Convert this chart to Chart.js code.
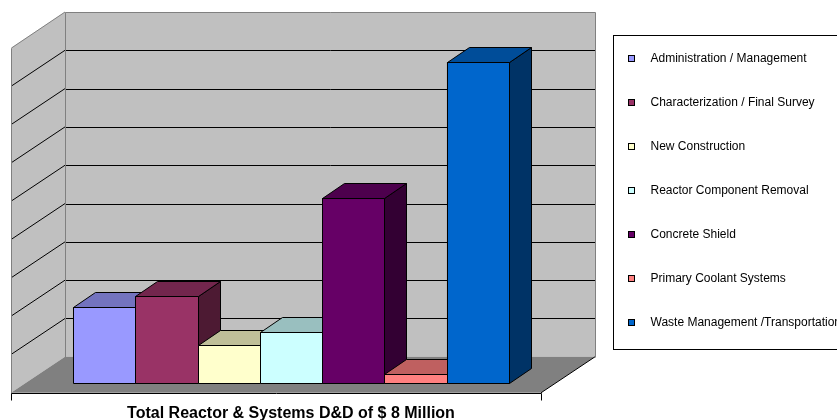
<!DOCTYPE html>
<html>
<head>
<meta charset="utf-8">
<script src="https://cdn.jsdelivr.net/npm/chart.js@4/dist/chart.umd.min.js"></script>
<style>
  html, body { margin: 0; padding: 0; background: #fff; }
  #wrap { width: 837px; height: 420px; }
</style>
</head>
<body>
<div id="wrap"><canvas id="chart" width="837" height="420"></canvas></div>
<script>
// single category, one series per cost item ($ million)
const categories = ['Total Reactor & Systems D&D of $ 8 Million'];
const seriesNames = [
  'Administration / Management',
  'Characterization / Final Survey',
  'New Construction',
  'Reactor Component Removal',
  'Concrete Shield',
  'Primary Coolant Systems',
  'Waste Management /Transportation'
];
const seriesValues = [0.79, 0.91, 0.39, 0.53, 1.93, 0.09, 3.35];
const seriesColors = ['#9999ff', '#993366', '#ffffcc', '#ccffff', '#660066', '#ff8080', '#0066cc'];
const yMax = 3.6;
const yStep = 0.4;

const FONT = "'Liberation Sans', Arial, sans-serif";
Chart.defaults.font.family = FONT;

// depth offsets of the fake 3d box, relative to the bar front plane
const FRONT = { x: -15, y: 10 };
const BACK = { x: 39, y: -26 };
const BAR_DEPTH = { x: 22, y: -15 };

function shade(hex, k) {
  const n = parseInt(hex.slice(1), 16);
  const r = Math.round(((n >> 16) & 255) * k);
  const g = Math.round(((n >> 8) & 255) * k);
  const b = Math.round((n & 255) * k);
  return `rgb(${r},${g},${b})`;
}

function swatch(color) {
  const c = document.createElement('canvas');
  c.width = 7;
  c.height = 7;
  const g = c.getContext('2d');
  g.fillStyle = color;
  g.fillRect(0, 0, 7, 7);
  g.strokeStyle = '#000';
  g.lineWidth = 1;
  g.strokeRect(0.5, 0.5, 6, 6);
  return c;
}
const swatches = seriesColors.map(swatch);

const px = v => Math.round(v) + 0.5;

function poly(ctx, pts, fill, stroke) {
  ctx.beginPath();
  pts.forEach(([x, y], i) => i ? ctx.lineTo(x, y) : ctx.moveTo(x, y));
  ctx.closePath();
  if (fill) { ctx.fillStyle = fill; ctx.fill(); }
  if (stroke) { ctx.strokeStyle = stroke; ctx.lineWidth = 1; ctx.stroke(); }
}

function line(ctx, x1, y1, x2, y2, color) {
  ctx.beginPath();
  ctx.moveTo(x1, y1);
  ctx.lineTo(x2, y2);
  ctx.strokeStyle = color;
  ctx.lineWidth = 1;
  ctx.stroke();
}

const box3d = {
  id: 'box3d',
  afterLayout(chart) {
    // legend sits in its own framed box on the right
    const lg = chart.legend;
    lg.left = 586.5; lg.top = 20.5; lg.right = 837; lg.bottom = 420;
    lg.width = lg.right - lg.left; lg.height = lg.bottom - lg.top;
  },
  beforeDraw(chart) {
    const ctx = chart.ctx;
    ctx.save();
    ctx.fillStyle = '#fff';
    ctx.fillRect(0, 0, chart.width, chart.height);
    ctx.strokeStyle = '#000';
    ctx.lineWidth = 1;
    ctx.strokeRect(613.5, 35.5, 300, 314);
    ctx.restore();
  },
  beforeDatasetsDraw(chart) {
    const ctx = chart.ctx;
    const { left: L, right: R } = chart.chartArea;
    const ys = chart.scales.y;
    const y0 = ys.getPixelForValue(0);
    const yT = ys.getPixelForValue(yMax);
    ctx.save();
    // back wall
    poly(ctx, [[L + BACK.x, yT + BACK.y], [R + BACK.x, yT + BACK.y], [R + BACK.x, y0 + BACK.y], [L + BACK.x, y0 + BACK.y]], '#c0c0c0');
    // side wall
    poly(ctx, [[L + FRONT.x, yT + FRONT.y], [L + BACK.x, yT + BACK.y], [L + BACK.x, y0 + BACK.y], [L + FRONT.x, y0 + FRONT.y]], '#c0c0c0');
    // floor
    poly(ctx, [[L + FRONT.x, y0 + FRONT.y], [L + BACK.x, y0 + BACK.y], [R + BACK.x, y0 + BACK.y], [R + FRONT.x, y0 + FRONT.y]], '#808080');

    const ticks = ys.ticks.map(t => t.value);
    ticks.forEach(v => {
      if (v <= 0 || v >= yMax) return;
      const p = ys.getPixelForValue(v);
      line(ctx, px(L + BACK.x), px(p + BACK.y), px(R + BACK.x), px(p + BACK.y), '#000');
      line(ctx, L + FRONT.x, p + FRONT.y, L + BACK.x, p + BACK.y, '#000');
    });

    // wall edges
    const gx = px(L + BACK.x), gr = px(R + BACK.x), gt = px(yT + BACK.y), gb = px(y0 + BACK.y);
    line(ctx, gx, gt, gr, gt, '#808080');
    line(ctx, gr, gt, gr, gb, '#808080');
    line(ctx, gx, gt, gx, gb, '#808080');
    line(ctx, px(L + FRONT.x), yT + FRONT.y, L + BACK.x, yT + BACK.y, '#808080');
    line(ctx, px(L + FRONT.x), px(yT + FRONT.y), px(L + FRONT.x), px(y0 + FRONT.y), '#808080');
    // floor front and right edges + category axis ticks
    const fb = px(y0 + FRONT.y);
    line(ctx, px(L + FRONT.x), fb, px(R + FRONT.x), fb, '#000');
    line(ctx, R + FRONT.x, y0 + FRONT.y, R + BACK.x, y0 + BACK.y, '#000');
    line(ctx, px(L + FRONT.x), fb, px(L + FRONT.x), fb + 7, '#000');
    line(ctx, px(R + FRONT.x), fb, px(R + FRONT.x), fb + 7, '#000');
    ctx.restore();
  },
  afterDatasetsDraw(chart) {
    const ctx = chart.ctx;
    ctx.save();
    chart.data.datasets.forEach((ds, i) => {
      const el = chart.getDatasetMeta(i).data[0];
      if (!el) return;
      const { x, y, base, width } = el.getProps(['x', 'y', 'base', 'width'], true);
      const l = px(x - width / 2), r = px(x + width / 2), t = px(y), b = px(base);
      const dx = BAR_DEPTH.x, dy = BAR_DEPTH.y;
      const c = seriesColors[i];
      poly(ctx, [[l, t], [r, t], [r, b], [l, b]], c, '#000');
      poly(ctx, [[r, t], [r + dx, t + dy], [r + dx, b + dy], [r, b]], shade(c, 0.5), '#000');
      poly(ctx, [[l, t], [l + dx, t + dy], [r + dx, t + dy], [r, t]], shade(c, 0.75), '#000');
    });
    ctx.restore();
  }
};

new Chart(document.getElementById('chart'), {
  type: 'bar',
  data: {
    labels: categories,
    datasets: seriesNames.map((name, i) => ({
      label: name,
      data: [seriesValues[i]],
      backgroundColor: seriesColors[i],
      borderColor: '#000',
      borderWidth: 1,
      categoryPercentage: 0.823,
      barPercentage: 1
    }))
  },
  options: {
    responsive: false,
    animation: false,
    layout: { padding: { left: 26, right: 281, top: 38, bottom: -24 } },
    plugins: {
      tooltip: { enabled: false },
      legend: {
        position: 'chartArea',
        align: 'start',
        labels: {
          usePointStyle: true,
          pointStyleWidth: 26,
          padding: 32,
          color: '#000',
          font: { size: 12, family: FONT },
          generateLabels(chart) {
            const items = Chart.defaults.plugins.legend.labels.generateLabels(chart);
            items.forEach((it, i) => { it.pointStyle = swatches[i]; });
            return items;
          }
        }
      }
    },
    scales: {
      x: {
        grid: { display: false, drawTicks: false },
        border: { display: false },
        ticks: {
          color: '#000',
          padding: 21,
          maxRotation: 0,
          autoSkip: false,
          font: { size: 16, weight: 'bold', family: FONT }
        }
      },
      y: {
        display: false,
        min: 0,
        max: yMax,
        ticks: { stepSize: yStep }
      }
    }
  },
  plugins: [box3d]
});
</script>
</body>
</html>
